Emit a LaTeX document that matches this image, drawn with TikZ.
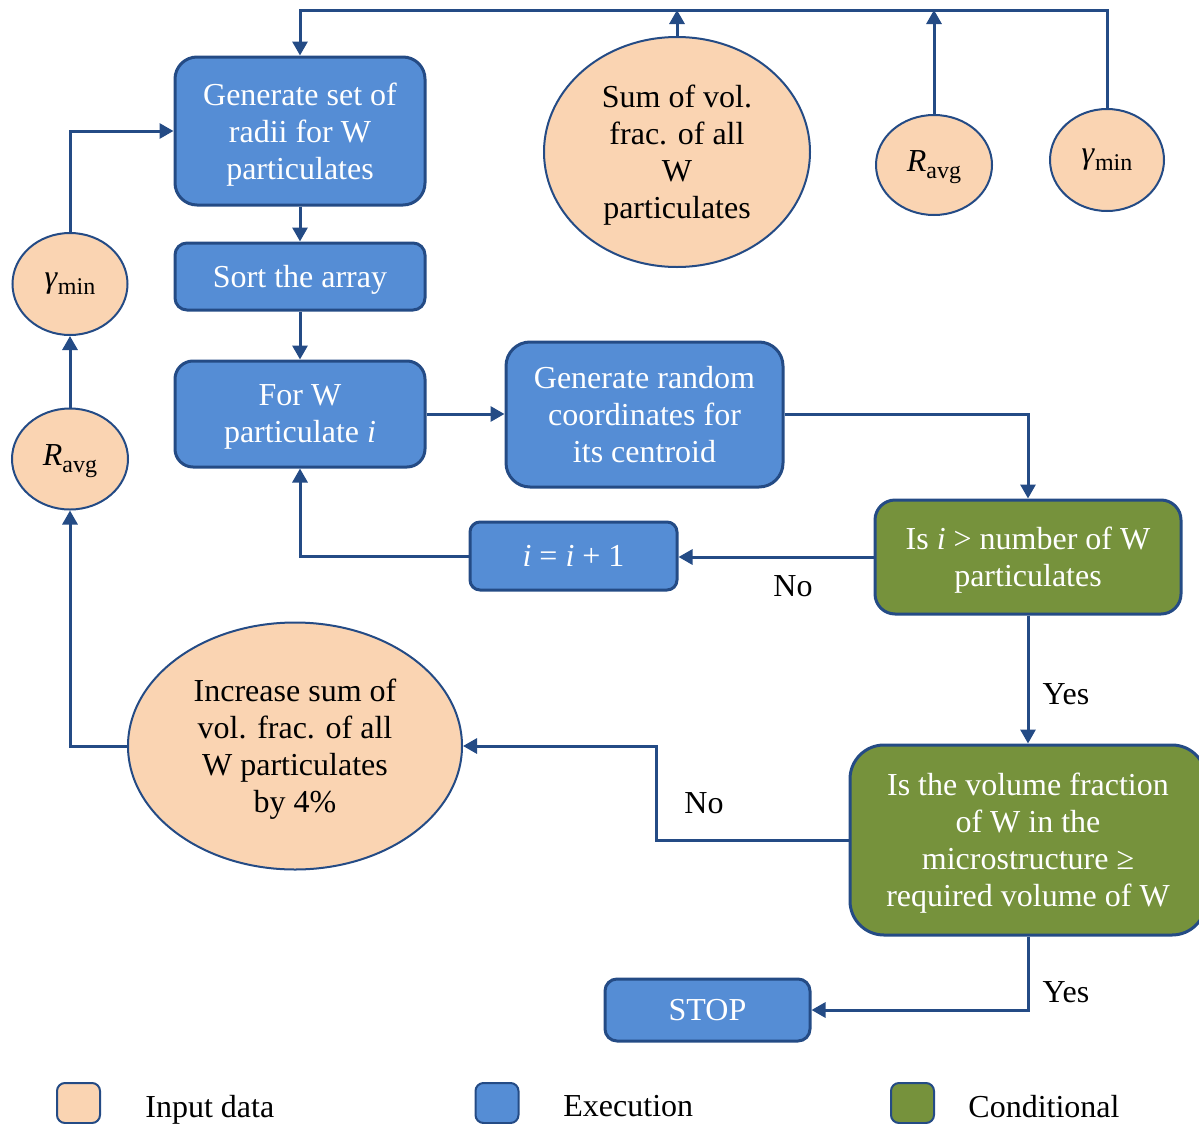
\documentclass[tikz,border=0pt]{standalone}
\usepackage{fontspec}
\setmainfont{Liberation Serif}
\usetikzlibrary{arrows.meta,shapes.geometric}

\definecolor{edgeblue}{RGB}{36,75,133}
\definecolor{procfill}{RGB}{85,141,213}
\definecolor{inputfill}{RGB}{250,212,178}
\definecolor{condfill}{RGB}{118,146,60}

% lowered, smaller subscript text
\newcommand\lowsub[1]{\raisebox{-0.45ex}{\fontsize{12}{12}\selectfont #1}}

\tikzset{
  every node/.style={text depth=0pt},
  proc/.style={draw=edgeblue, line width=1.5pt, fill=procfill, text=white,
    align=center, inner sep=0pt, rounded corners=#1},
  proc/.default=8pt,
  cond/.style={proc=#1, fill=condfill},
  cond/.default=10pt,
  inp/.style={ellipse, draw=edgeblue, line width=1pt, fill=inputfill,
    align=center, inner sep=0pt},
  sym/.style={inp, text depth=3.5pt},
  arr/.style={draw=edgeblue, line width=1.5pt,
    -{Triangle[length=7pt,width=7.5pt]}},
  lbl/.style={inner sep=0pt},
  key/.style={draw=edgeblue, line width=1pt, rounded corners=4pt,
    minimum width=21.5pt, minimum height=20pt, inner sep=0pt},
}

\begin{document}
\begin{tikzpicture}[x=0.5pt,y=-0.5pt,font=\fontsize{16}{18.5}\selectfont]
\useasboundingbox (0,0) rectangle (1199,1124);

% process steps
\node[proc=11pt, minimum width=125pt, minimum height=74pt] (b1) at (300,131)
  {Generate set of\\radii for W\\particulates};
\node[proc=6pt, minimum width=125pt, minimum height=33.5pt] (b2) at (300,276.5)
  {Sort the array};
\node[proc=9pt, minimum width=125pt, minimum height=53pt] (b3) at (300,414)
  {For W\\particulate \textit{i}};
\node[proc=12pt, minimum width=138.5pt, minimum height=72.5pt] (b4) at (644.5,414.5)
  {Generate random\\coordinates for\\its centroid};
\node[cond=10pt, minimum width=153pt, minimum height=57pt] (b5) at (1028,557)
  {Is \textit{i} > number of W\\particulates};
\node[proc=5pt, minimum width=103.5pt, minimum height=34pt] (b6) at (573.5,556)
  {\textit{i} = \textit{i} + 1};
\node[cond=17pt, minimum width=178pt, minimum height=95pt] (b7) at (1028,840)
  {Is the volume fraction\\of W in the\\microstructure ≥\\required volume of W};
\node[proc=6pt, minimum width=102.5pt, minimum height=31pt] (stop) at (707.5,1010)
  {STOP};

% input data
\node[inp, minimum width=133pt, minimum height=115pt] (sum) at (677,152)
  {Sum of vol.\\frac. of all\\W\\particulates};
\node[sym, minimum width=58pt, minimum height=50pt] (rR) at (934,165)
  {\textit{R}\lowsub{avg}};
\node[sym, minimum width=57pt, minimum height=51pt] (gR) at (1107,160)
  {\textit{γ}\lowsub{min}};
\node[sym, minimum width=57.5pt, minimum height=51pt] (gL) at (70,284)
  {\textit{γ}\lowsub{min}};
\node[sym, minimum width=58pt, minimum height=50.5pt] (rL) at (70,459)
  {\textit{R}\lowsub{avg}};
\node[inp, minimum width=167pt, minimum height=123.5pt] (inc) at (295,746)
  {Increase sum of\\vol. frac. of all\\W particulates\\by 4\%};

% bus along the top edge
\coordinate (busL) at (300,10);
\coordinate (busR) at (1107,10);
\coordinate (noturn) at (656,0);

\draw[arr] (gR.north) -- (busR) -- (busL) -- (b1.north);
\draw[arr] (sum.north) -- (sum.north |- busL);
\draw[arr] (rR.north) -- (rR.north |- busL);

% main flow
\draw[arr] (b1) -- (b2);
\draw[arr] (b2) -- (b3);
\draw[arr] (b3.east) -- (b3.east -| b4.west);
\draw[arr] (b4.east) -| (b5.north);
\draw[arr] (b5.west) -- (b5.west -| b6.east);
\draw[arr] (b6.west) -| (b3.south);
\draw[arr] (b5.south) -- (b7.north);
\draw[arr] (b7.west) -- (b7.west -| noturn) |- (inc.east);
\draw[arr] (b7.south) |- (stop.east);
\draw[arr] (inc.west) -| (rL.south);
\draw[arr] (rL.north) -- (gL.south);
\draw[arr] (gL.north) |- (b1.west);

% branch labels
\node[lbl] (no1) at (793,586) {No};
\node[lbl] (yes1) at (1066,694) {Yes};
\node[lbl] (no2) at (704,803) {No};
\node[lbl] (yes2) at (1066,992) {Yes};

% legend
\node[key, fill=inputfill] (k1) at (78.5,1103) {};
\node[key, fill=procfill] (k2) at (497,1103) {};
\node[key, fill=condfill] (k3) at (912.5,1103) {};
\node[lbl, anchor=west] (t1) at (145,1106) {Input data};
\node[lbl, anchor=west] (t2) at (563,1106) {Execution};
\node[lbl, anchor=west] (t3) at (968,1106) {Conditional};
\end{tikzpicture}
\end{document}
